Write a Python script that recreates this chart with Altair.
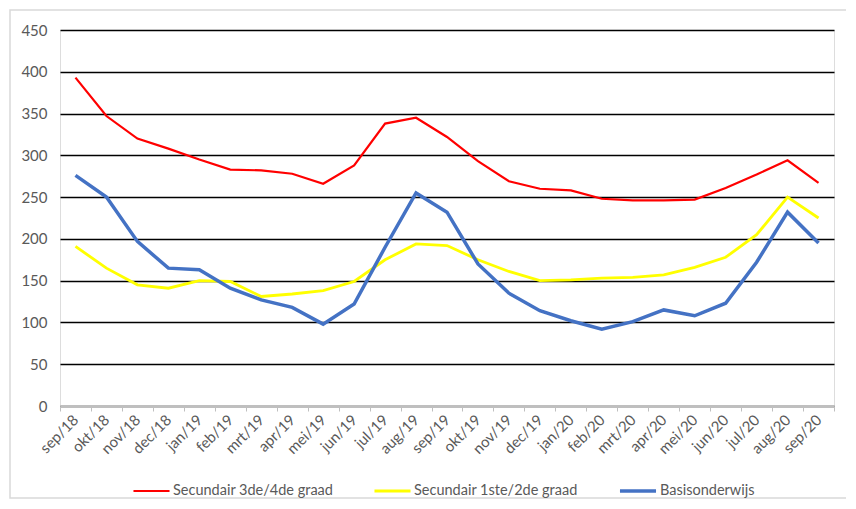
import altair as alt
import pandas as pd

months = ["sep/18", "okt/18", "nov/18", "dec/18", "jan/19", "feb/19", "mrt/19", "apr/19",
          "mei/19", "jun/19", "jul/19", "aug/19", "sep/19", "okt/19", "nov/19", "dec/19",
          "jan/20", "feb/20", "mrt/20", "apr/20", "mei/20", "jun/20", "jul/20", "aug/20", "sep/20"]

sec34 = [393, 347, 320, 308, 295, 283, 282, 278, 266, 288, 338, 345, 322, 293, 269, 260,
         258, 248, 246, 246, 247, 261, 277, 294, 267]
sec12 = [191, 165, 145, 141, 150, 149, 131, 134, 138, 149, 175, 194, 192, 175, 161, 150,
         151, 153, 154, 157, 166, 178, 205, 250, 225]
basis = [276, 250, 197, 165, 163, 141, 127, 118, 98, 122, 190, 255, 232, 170, 135, 114,
         102, 92, 101, 115, 108, 123, 172, 232, 195]

series_names = ["Secundair 3de/4de graad", "Secundair 1ste/2de graad", "Basisonderwijs"]
series_colors = ["#ff0000", "#ffff00", "#4472c4"]
series_widths = [2.2, 3.5, 3.8]

rows = []
for name, vals in zip(series_names, [sec34, sec12, basis]):
    for m, v in zip(months, vals):
        rows.append({"maand": m, "waarde": v, "reeks": name})
df = pd.DataFrame(rows)

FONT = "Lato"
GRAY = "#595959"

lines = alt.Chart(df).mark_line().encode(
    x=alt.X("maand:N", sort=months, bandPosition=0.5, title=None,
            scale=alt.Scale(type="band", paddingInner=0, paddingOuter=0),
            axis=alt.Axis(labelAngle=-45, labelAlign="right", labelBaseline="middle",
                          labelPadding=6, tickBand="extent", tickSize=5,
                          tickColor="#bfbfbf", domainColor="#bfbfbf", domainWidth=1,
                          labelColor=GRAY, labelFont=FONT, labelFontSize=15,
                          grid=False, zindex=1)),
    y=alt.Y("waarde:Q", title=None,
            scale=alt.Scale(domain=[0, 450], nice=False, zero=True),
            axis=alt.Axis(values=list(range(0, 451, 50)), domain=False, ticks=False,
                          labelPadding=13, labelColor=GRAY, labelFont=FONT, labelFontSize=15,
                          grid=True, gridColor="#000000", gridWidth=1.4)),
    color=alt.Color("reeks:N", sort=series_names,
                    scale=alt.Scale(domain=series_names, range=series_colors),
                    legend=alt.Legend(title=None, orient="none", direction="horizontal",
                                      legendX=72, legendY=441, symbolType="stroke",
                                      symbolSize=1300, symbolStrokeWidth=3.5,
                                      labelOffset=2, columnPadding=34,
                                      labelColor=GRAY, labelFont=FONT, labelFontSize=14.5,
                                      labelLimit=300)),
    strokeWidth=alt.StrokeWidth("reeks:N",
                                scale=alt.Scale(domain=series_names, range=series_widths),
                                legend=None),
)

frame = alt.Chart(pd.DataFrame({"a": [0]})).mark_rect(
    fill=None, stroke="#d9d9d9", strokeWidth=1.5
).encode(
    x=alt.value(-50), x2=alt.value(790), y=alt.value(-20), y2=alt.value(468)
)

chart = alt.layer(frame, lines).properties(
    width=774, height=376,
    autosize=alt.AutoSizeParams(type="none"),
    padding={"left": 52, "top": 22, "right": 12, "bottom": 100},
).configure_view(
    fill="#d9d9d9", stroke=None
).configure(
    background="white"
)

chart.save("out.html", embed_options={"renderer": "svg", "actions": False})
